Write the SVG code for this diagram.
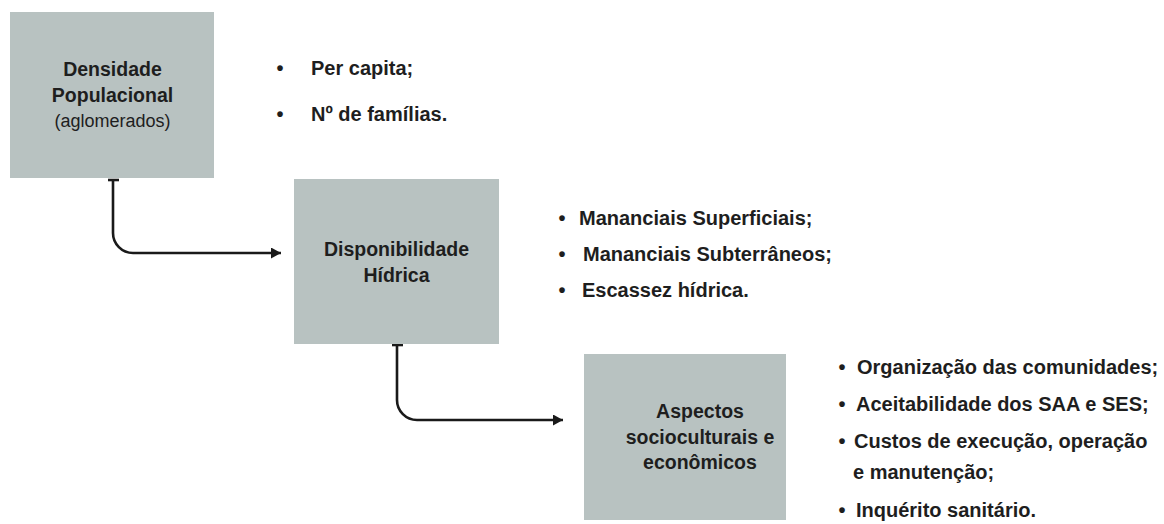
<svg xmlns="http://www.w3.org/2000/svg" width="1164" height="524" viewBox="0 0 1164 524">
<style>
.box{fill:#b8c2c1;}
.t{font-family:"Liberation Sans",Arial,sans-serif;font-weight:bold;font-size:19.5px;fill:#1e1e1e;text-anchor:middle;}
.r{font-weight:normal;font-size:18px;}
.b{font-family:"Liberation Sans",Arial,sans-serif;font-weight:bold;font-size:20px;fill:#1e1e1e;}
.dot{text-anchor:middle;}
.c{fill:none;stroke:#1a1a1a;stroke-width:2.6;}
</style>
<defs>
<marker id="arr" markerUnits="userSpaceOnUse" markerWidth="12" markerHeight="12" refX="10" refY="5.5" orient="auto">
<path d="M0,0 L10,5.5 L0,11 Z" fill="#1a1a1a"/>
</marker>
</defs>
<rect width="1164" height="524" fill="#ffffff"/>
<g id="connectors">
<path class="c" d="M113,180 V233 A20,20 0 0 0 133,253 H281" marker-end="url(#arr)"/>
<line class="c" x1="108" y1="180" x2="119" y2="180"/>
<path class="c" d="M397,345 V400 A20,20 0 0 0 417,420 H563" marker-end="url(#arr)"/>
<line class="c" x1="392" y1="345" x2="403" y2="345"/>
</g>
<g id="node-densidade">
<rect class="box" x="10" y="12" width="204" height="166"/>
<text class="t" x="112.5" y="76">Densidade</text>
<text class="t" x="112.5" y="102">Populacional</text>
<text class="t r" x="112.5" y="127">(aglomerados)</text>
</g>
<g id="list-densidade">
<text class="b dot" x="280" y="75">•</text>
<text class="b" x="311" y="75">Per capita;</text>
<text class="b dot" x="280" y="121">•</text>
<text class="b" x="311" y="121">Nº de famílias.</text>
</g>
<g id="node-disponibilidade">
<rect class="box" x="294" y="179" width="205" height="165"/>
<text class="t" x="396.5" y="256">Disponibilidade</text>
<text class="t" x="396.5" y="282">Hídrica</text>
</g>
<g id="list-disponibilidade">
<text class="b dot" x="562" y="225">•</text>
<text class="b" x="579" y="225">Mananciais Superficiais;</text>
<text class="b dot" x="562" y="261">•</text>
<text class="b" x="583" y="261">Mananciais Subterrâneos;</text>
<text class="b dot" x="562" y="297">•</text>
<text class="b" x="582" y="297">Escassez hídrica.</text>
</g>
<g id="node-aspectos">
<rect class="box" x="584" y="354" width="202" height="166"/>
<text class="t" x="700" y="418">Aspectos</text>
<text class="t" x="700" y="444">socioculturais e</text>
<text class="t" x="700" y="469">econômicos</text>
</g>
<g id="list-aspectos">
<text class="b dot" x="842" y="374">•</text>
<text class="b" x="857" y="374">Organização das comunidades;</text>
<text class="b dot" x="842" y="411">•</text>
<text class="b" x="856" y="411">Aceitabilidade dos SAA e SES;</text>
<text class="b dot" x="842" y="448">•</text>
<text class="b" x="854" y="448">Custos de execução, operação</text>
<text class="b" x="853" y="479">e manutenção;</text>
<text class="b dot" x="842" y="517">•</text>
<text class="b" x="856" y="517">Inquérito sanitário.</text>
</g>
</svg>
